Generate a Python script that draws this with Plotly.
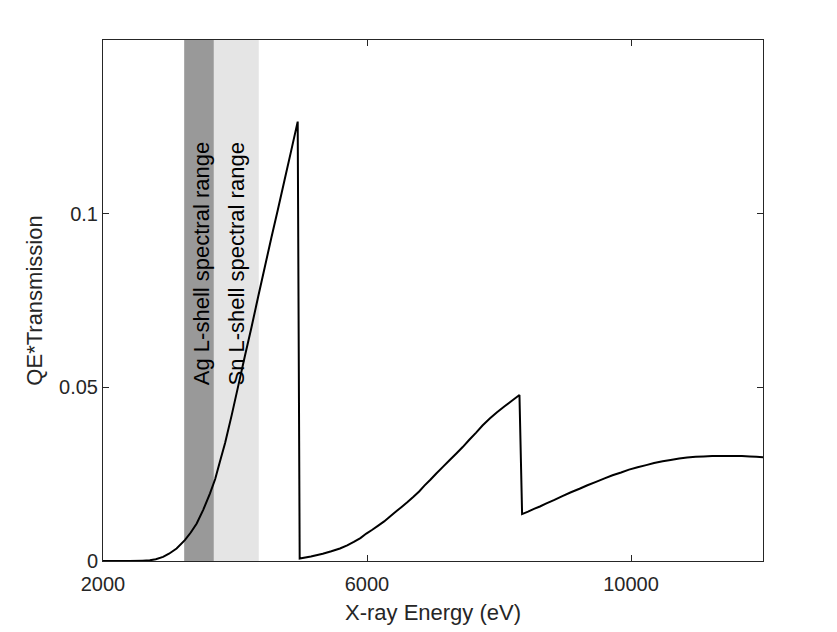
import plotly.graph_objects as go

# curve (eV, QE*Transmission)
energy = [2000, 2400, 2600, 2710, 2800, 2910, 3000, 3115, 3240, 3330, 3420, 3520,
          3620, 3700, 3770, 3850, 3950, 4050, 4150, 4250, 4350, 4450, 4550, 4650,
          4750, 4850, 4950,
          4980, 5150, 5330, 5460, 5590, 5700, 5800, 5900, 5990, 6080, 6170, 6260,
          6340, 6430, 6520, 6610, 6700, 6790, 6870, 6960, 7050, 7150, 7250, 7350,
          7450, 7550, 7650, 7750, 7860, 7970, 8080, 8200, 8310,
          8350, 8440, 8530, 8620, 8710, 8840, 8960, 9090, 9220, 9340, 9470, 9600,
          9720, 9850, 9970, 10100, 10230, 10350, 10480, 10600, 10730, 10850,
          10980, 11100, 11230, 11380, 11540, 11680, 11800, 11900, 12000]
qe_trans = [0.0, 0.0, 0.0001, 0.0002, 0.0005, 0.0012, 0.0021, 0.0036, 0.0060, 0.0082,
            0.0108, 0.0148, 0.0194, 0.0236, 0.0285, 0.0340, 0.0420, 0.0505, 0.0590,
            0.0673, 0.0760, 0.0845, 0.0930, 0.1012, 0.1096, 0.1180, 0.1265,
            0.0007, 0.0013, 0.0021, 0.0028, 0.0036, 0.0045, 0.0055, 0.0066, 0.0079,
            0.0090, 0.0102, 0.0114, 0.0127, 0.0141, 0.0155, 0.0169, 0.0184, 0.0200,
            0.0217, 0.0234, 0.0252, 0.0271, 0.0290, 0.0309, 0.0328, 0.0349, 0.0369,
            0.0390, 0.0410, 0.0428, 0.0445, 0.0462, 0.0478,
            0.0135, 0.0142, 0.0150, 0.0157, 0.0165, 0.0176, 0.0187, 0.0198, 0.0208,
            0.0218, 0.0228, 0.0238, 0.0247, 0.0255, 0.0263, 0.0270, 0.0276, 0.0282,
            0.0287, 0.0291, 0.0295, 0.0298, 0.0300, 0.0301, 0.0302, 0.0302, 0.0302,
            0.0302, 0.0301, 0.0300, 0.0299]

# shaded spectral ranges
band_names = ["Ag L-shell spectral range", "Sn L-shell spectral range"]
band_start = [3230, 3680]
band_end = [3680, 4360]
band_colors = ["#999999", "#e5e5e5"]
label_x = [3490, 4025]
label_y = [0.05, 0.05]

x_ticks = [2000, 6000, 10000]
x_tick_text = ["2000", "6000", "10000"]
y_ticks = [0, 0.05, 0.1]
y_tick_text = ["0", "0.05", "0.1"]

axis_col = "#262626"
font_name = "Liberation Sans, Arial, sans-serif"

fig = go.Figure()

for i in range(len(band_names)):
    fig.add_shape(type="rect", xref="x", yref="paper",
                  x0=band_start[i], x1=band_end[i], y0=0, y1=1,
                  fillcolor=band_colors[i], line_width=0, layer="below")
    fig.add_annotation(x=label_x[i], y=label_y[i], text=band_names[i],
                       textangle=-90, showarrow=False,
                       xanchor="center", yanchor="bottom",
                       font=dict(family=font_name, size=22, color="black"))

# simplify off, otherwise plotly drops near-collinear points and the curve gets kinks
fig.add_trace(go.Scatter(x=energy, y=qe_trans, mode="lines",
                         line=dict(color="black", width=2, simplify=False),
                         showlegend=False))

fig.update_xaxes(range=[2000, 12000], tickvals=x_ticks, ticktext=x_tick_text,
                 title=dict(text="X-ray Energy (eV)", font=dict(size=22, color=axis_col), standoff=10),
                 showline=True, linecolor=axis_col, linewidth=1, mirror="ticks",
                 ticks="inside", ticklen=6, tickcolor=axis_col, ticklabelstandoff=5,
                 showgrid=False, zeroline=False,
                 tickfont=dict(size=20, color=axis_col))
fig.update_yaxes(range=[0, 0.15], tickvals=y_ticks, ticktext=y_tick_text,
                 title=dict(text="QE*Transmission", font=dict(size=22, color=axis_col), standoff=10),
                 showline=True, linecolor=axis_col, linewidth=1, mirror="ticks",
                 ticks="inside", ticklen=6, tickcolor=axis_col,
                 showgrid=False, zeroline=False,
                 tickfont=dict(size=20, color=axis_col))

# the page body adds ~8px, so the margins are shifted back by that amount
fig.update_layout(width=837, height=632,
                  margin=dict(l=95, r=82, t=32, b=79, autoexpand=False),
                  plot_bgcolor="white", paper_bgcolor="white",
                  font=dict(family=font_name, color=axis_col))

fig.write_html("out.html")
